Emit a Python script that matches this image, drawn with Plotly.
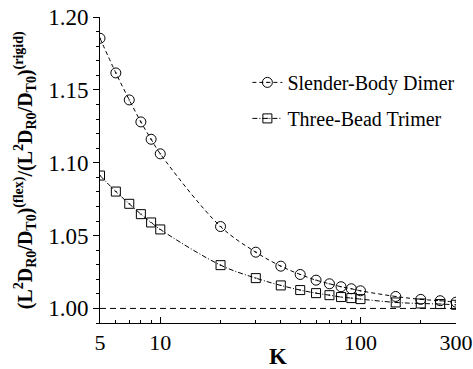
import plotly.graph_objects as go

K = [5, 6, 7, 8, 9, 10, 20, 30, 40, 50, 60, 70, 80, 90, 100, 150, 200, 250, 300]
dimer = [1.1854, 1.1616, 1.1431, 1.1280, 1.1161, 1.1061, 1.0562, 1.0386, 1.0290,
         1.0233, 1.0194, 1.0169, 1.0149, 1.0135, 1.0121, 1.0082, 1.0062, 1.0053, 1.0043]
trimer = [1.0912, 1.0802, 1.0718, 1.0647, 1.0590, 1.0542, 1.0297, 1.0208, 1.0158,
          1.0126, 1.0105, 1.0091, 1.0078, 1.0071, 1.0064, 1.0041, 1.0034, 1.0030, 1.0025]
x_ticks = [5, 10, 100, 300]
x_minor = [6, 7, 8, 9, 20, 30, 40, 50, 60, 70, 80, 90, 200]
y_ticks = [1.00, 1.05, 1.10, 1.15, 1.20]
ref_line = [1.0, 1.0]
ref_x = [5, 300]

FONT = "Liberation Serif"

fig = go.Figure()
fig.add_trace(go.Scatter(x=ref_x, y=ref_line, mode="lines",
                         line=dict(color="black", width=1, dash="6px,4px"),
                         showlegend=False, hoverinfo="skip"))
fig.add_trace(go.Scatter(x=K, y=dimer, mode="lines+markers", name="Slender-Body Dimer",
                         legendgroup="a",
                         line=dict(color="black", width=1, dash="4px,3px", shape="spline"),
                         marker=dict(symbol="circle-open-dot", size=10, color="black",
                                     line=dict(width=1, color="black"))))
fig.add_trace(go.Scatter(x=K, y=trimer, mode="lines+markers", name="Three-Bead Trimer",
                         legendgroup="b",
                         line=dict(color="black", width=1, dash="5px,2px,1px,2px", shape="spline"),
                         marker=dict(symbol="square-open-dot", size=9, color="black",
                                     line=dict(width=1, color="black"))))

ytitle = ("<b>(L<sup>2</sup>D<sub>R0</sub>/D<sub>T0</sub>)<sup>(flex)</sup>"
          "/(L<sup>2</sup>D<sub>R0</sub>/D<sub>T0</sub>)<sup>(rigid)</sup></b>")

fig.add_annotation(text=ytitle, textangle=-90, xref="paper", yref="paper",
                   x=-0.21, y=0.50, xanchor="center", yanchor="middle", showarrow=False,
                   font=dict(family=FONT, size=20, color="black"))

fig.update_layout(
    width=473, height=369,
    margin=dict(l=100, r=17, t=17, b=46),
    paper_bgcolor="white", plot_bgcolor="white",
    font=dict(family=FONT, color="black", size=20),
    legend=dict(x=0.414, y=0.85, xanchor="left", yanchor="top",
                font=dict(family=FONT, size=20), bgcolor="rgba(0,0,0,0)",
                itemwidth=30, traceorder="grouped", tracegroupgap=7),
    xaxis=dict(type="log", range=[0.69897, 2.47712], automargin=False,
               tickvals=x_ticks, ticktext=[str(v) for v in x_ticks],
               ticklabeloverflow="allow",
               ticks="inside", ticklen=6, tickwidth=1, tickcolor="black",
               showline=True, linecolor="black", linewidth=1,
               showgrid=False, zeroline=False,
               tickfont=dict(family=FONT, size=22),
               minor=dict(tickvals=x_minor, ticks="inside", ticklen=3, tickcolor="black", tickwidth=1),
               title=dict(text="<b>K</b>", font=dict(family=FONT, size=23), standoff=0)),
    yaxis=dict(range=[0.99, 1.20], automargin=False,
               tickvals=y_ticks, ticktext=["%.2f" % v for v in y_ticks],
               ticklabeloverflow="allow",
               ticks="outside", ticklen=6, tickwidth=1, tickcolor="black",
               showline=True, linecolor="black", linewidth=1,
               showgrid=False, zeroline=False,
               tickfont=dict(family=FONT, size=23),
               minor=dict(dtick=0.01, ticks="outside", ticklen=3, tickcolor="black", tickwidth=1)),
)

fig.write_html("out.html", config={"displayModeBar": False},
               post_script="document.body.style.margin='0';document.body.style.padding='0';")
